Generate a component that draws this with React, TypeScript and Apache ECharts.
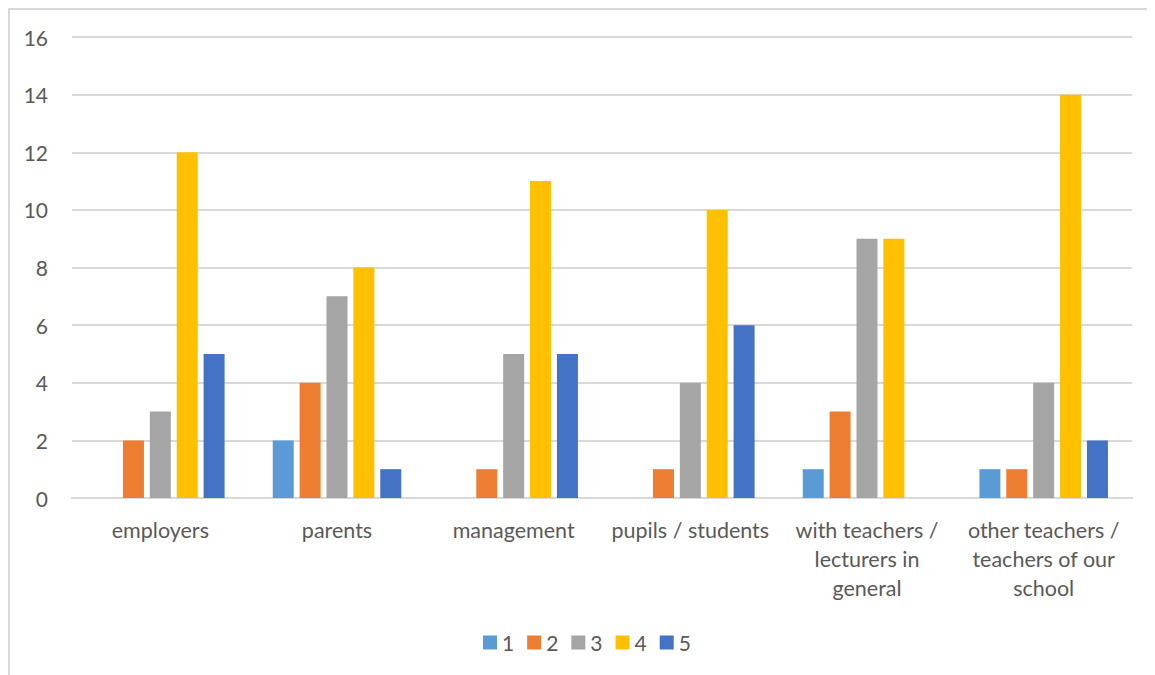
import React, { useEffect, useRef } from "react";
import * as echarts from "echarts";

const categories = [
  "employers",
  "parents",
  "management",
  "pupils / students",
  "with teachers /\nlecturers in\ngeneral",
  "other teachers /\nteachers of our\nschool",
];
const seriesNames = ["1", "2", "3", "4", "5"];
const s1 = [0, 2, 0, 0, 1, 1];
const s2 = [2, 4, 1, 1, 3, 1];
const s3 = [3, 7, 5, 4, 9, 4];
const s4 = [12, 8, 11, 10, 9, 14];
const s5 = [5, 1, 5, 6, 0, 2];
const colors = ["#5B9BD5", "#ED7D31", "#A5A5A5", "#FFC000", "#4472C4"];

const FONT = "Lato";

export default function App() {
  const ref = useRef<HTMLDivElement>(null);
  useEffect(() => {
    if (!ref.current) return;
    const chart = echarts.init(ref.current, undefined, { renderer: "svg" });
    const data = [s1, s2, s3, s4, s5];
    chart.setOption({
      animation: false,
      textStyle: { fontFamily: FONT },
      grid: { left: 64, right: 23, top: 29, bottom: 177, containLabel: false },
      legend: {
        data: seriesNames,
        left: 470,
        top: 619,
        icon: "rect",
        itemWidth: 14,
        itemHeight: 14,
        itemGap: 13,
        textStyle: { fontFamily: FONT, fontSize: 21, color: "#595959" },
      },
      xAxis: {
        type: "category",
        data: categories,
        axisLine: { show: true, lineStyle: { color: "#D9D9D9", width: 2 } },
        axisTick: { show: false },
        axisLabel: {
          fontFamily: FONT,
          fontSize: 21.5,
          color: "#595959",
          margin: 17,
          lineHeight: 29,
          interval: 0,
        },
      },
      yAxis: {
        type: "value",
        min: 0,
        max: 16,
        interval: 2,
        axisLine: { show: false },
        axisTick: { show: false },
        splitLine: { lineStyle: { color: "#D9D9D9", width: 2 } },
        axisLabel: { fontFamily: FONT, fontSize: 21, color: "#595959", margin: 24 },
      },
      series: data.map((d, i) => ({
        name: seriesNames[i],
        type: "bar",
        data: d.map((v) => (v === 0 ? null : v)),
        barWidth: 21,
        barGap: "28%",
        itemStyle: { color: colors[i] },
      })),
    });
    return () => chart.dispose();
  }, []);
  return (
    <div
      style={{
        width: 1147,
        height: 667,
        borderTop: "2px solid #D9D9D9",
        borderLeft: "2px solid #D9D9D9",
        boxSizing: "border-box",
        position: "relative",
      }}
    >
      <div ref={ref} style={{ position: "absolute", left: -2, top: -2, width: 1147, height: 667 }} />
    </div>
  );
}
